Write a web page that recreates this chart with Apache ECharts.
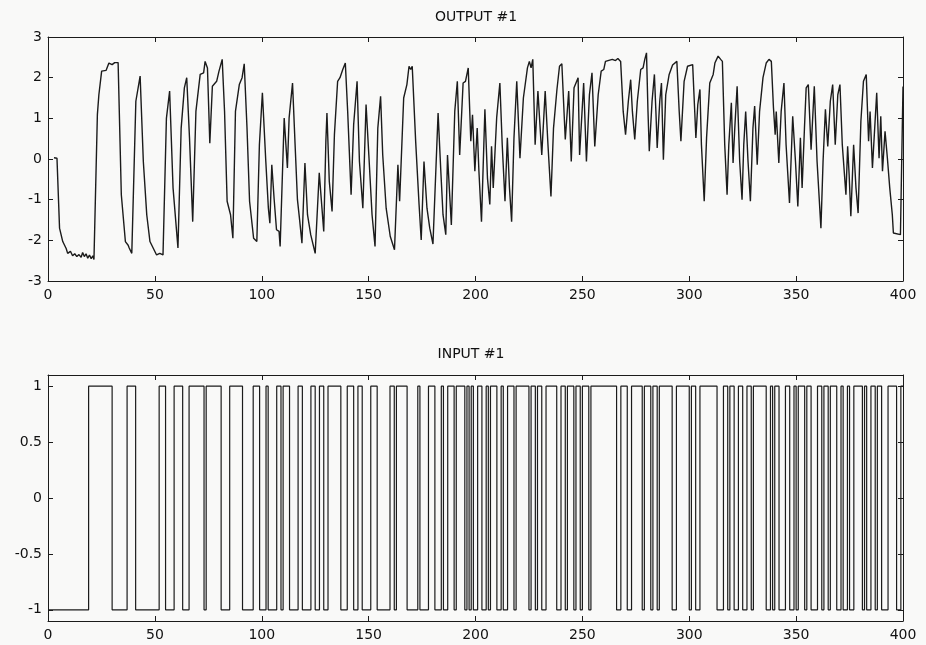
<!DOCTYPE html>
<html>
<head>
<meta charset="utf-8">
<script src="https://cdn.jsdelivr.net/npm/echarts@6.0.0/dist/echarts.min.js"></script>
<style>
  html, body { margin: 0; padding: 0; background: #f9f9f8; }
  #chart { width: 926px; height: 645px; }
</style>
</head>
<body>
<div id="chart"></div>
<script>
// OUTPUT #1 : vertices [sample, value], in four stretches
let output0to100 = [
    [2.8, 0.03], [4.2, 0.02], [5.4, -1.7], [6.9, -2.03], [8.5, -2.2], [9.2, -2.32], [10.5, -2.27],
    [11.5, -2.38], [12.5, -2.33], [13.5, -2.4], [14.5, -2.35], [15.5, -2.42], [16.2, -2.3], [17, -2.4],
    [17.8, -2.33], [18.6, -2.44], [19.4, -2.36], [20.2, -2.45], [21, -2.38], [21.5, -2.47], [23.1, 1.09],
    [23.8, 1.58], [25.1, 2.16], [27.2, 2.18], [28.5, 2.36], [30, 2.32], [31.2, 2.37], [32.8, 2.37],
    [34.3, -0.88], [36.2, -2.03], [37.5, -2.12], [38, -2.19], [39.2, -2.32], [41.1, 1.42], [43.1, 2.04],
    [44.6, -0.06], [46.2, -1.37], [47.7, -2.03], [50.8, -2.36], [52.3, -2.32], [53.8, -2.36], [55.4, 1.0],
    [56.9, 1.67], [58.5, -0.71], [60.8, -2.19], [62.3, 0.76], [63.8, 1.75], [64.9, 2.0], [66.2, 0.52],
    [67.7, -1.54], [69.2, 1.17], [71.2, 2.08], [72.8, 2.12], [73.5, 2.4], [74.6, 2.24], [75.7, 0.39],
    [76.9, 1.79], [78.9, 1.91], [80, 2.16], [81.5, 2.45], [82.6, 1.17], [83.8, -1.04], [85.4, -1.37],
    [86.5, -1.95], [87.7, 1.17], [89.5, 1.83], [90.8, 2.0], [91.8, 2.34], [93.1, 0.76], [94.3, -1.04],
    [96.2, -1.95], [97.7, -2.03], [98.9, 0.35], [100.3, 1.63]
];
let output100to200 = [
    [101.9, -0.06], [103.1, -1.21], [103.8, -1.58], [104.7, -0.14], [105.8, -0.99], [106.9, -1.74],
    [108.1, -1.78], [108.6, -2.15], [110.5, 1.01], [112, -0.22], [112.8, 1.01], [114.4, 1.87],
    [115.6, 0.35], [116.7, -1.0], [117.8, -1.54], [118.8, -2.07], [120.2, -0.1], [121.4, -1.37],
    [122.9, -1.86], [125, -2.32], [126.9, -0.34], [129, -1.78], [130, 0.44], [130.5, 1.13], [131.6, -0.55],
    [132.9, -1.29], [134, 0.6], [135.5, 1.91], [136.6, 2.0], [137.9, 2.2], [139.1, 2.36], [140.2, 1.17],
    [141.8, -0.88], [143, 0.85], [144.6, 1.91], [145.7, -0.06], [147.3, -1.21], [148.8, 1.34], [150.1, 0.1],
    [151.6, -1.37], [153, -2.15], [154.3, 0.76], [155.6, 1.54], [156.6, 0.1], [158.2, -1.21], [160.1, -1.9],
    [162.1, -2.23], [163.7, -0.14], [164.5, -1.04], [166.4, 1.5], [167.9, 1.83], [168.9, 2.28], [169.7, 2.2],
    [170.4, 2.28], [172, 0.44], [173.6, -1.12], [174.6, -1.99], [175.9, -0.06], [177.3, -1.21], [178.6, -1.7],
    [180.1, -2.09], [182.5, 1.13], [183.7, -0.22], [184.8, -1.37], [186.1, -1.86], [186.9, 0.1], [188.7, -1.62],
    [190.3, 1.17], [191.5, 1.91], [192.6, 0.1], [194.2, 1.87], [195.3, 1.91], [196.6, 2.24], [197.8, 0.44],
    [198.6, 1.09], [199.7, -0.3]
];
let output200to300 = [
    [200.8, 0.76], [201.6, -0.3], [202.8, -1.54], [204.4, 1.22], [205.6, -0.47], [206.7, -1.12], [207.5, 0.31],
    [208.3, -0.71], [209.9, 1.01], [211.4, 1.87], [212.5, 0.35], [213.8, -1.04], [214.9, 0.52], [215.9, -0.71],
    [216.9, -1.54], [218, 0.52], [219.3, 1.91], [220.8, 0.02], [222.4, 1.5], [224.3, 2.24], [225.2, 2.4],
    [226, 2.24], [226.8, 2.45], [227.9, 0.35], [229.2, 1.67], [231, 0.1], [232.6, 1.67], [233.9, 0.35],
    [235.3, -0.92], [236.5, 0.76], [238.1, 1.71], [239.3, 2.28], [240.4, 2.34], [242, 0.48], [243.6, 1.67],
    [244.8, -0.06], [246.1, 1.75], [248, 2.0], [248.7, 0.1], [250.6, 1.87], [251.9, -0.06], [253.3, 1.58],
    [254.5, 2.12], [255.8, 0.31], [257.4, 1.58], [258.8, 2.16], [260, 2.2], [260.8, 2.4], [264, 2.45],
    [265.5, 2.42], [266.6, 2.47], [267.9, 2.4], [269.1, 1.17], [270.2, 0.6], [271.5, 1.42], [272.6, 1.95],
    [273.4, 1.17], [274.5, 0.48], [275.7, 1.42], [277.3, 2.2], [278.4, 2.24], [279.2, 2.45], [280, 2.61],
    [280.7, 1.17], [281.3, 0.19], [282.6, 1.42], [283.7, 2.08], [284.4, 1.17], [285, 0.27], [286.2, 1.42],
    [287, 1.87], [287.9, -0.02], [289, 1.58], [290.6, 2.08], [292.2, 2.31], [294.2, 2.4], [295.3, 1.17],
    [296.1, 0.44], [297.6, 1.91], [299.2, 2.28], [301.6, 2.32]
];
let output300to400 = [
    [302.6, 1.13], [303.1, 0.52], [304, 1.34], [305, 1.71], [305.7, 0.35], [307, -1.04], [308.1, 0.52],
    [309.6, 1.87], [311.2, 2.08], [312, 2.36], [313.5, 2.53], [314.7, 2.45], [315.5, 2.4], [316.6, 0.35],
    [317.7, -0.88], [318.5, 0.35], [319.7, 1.38], [320.5, -0.1], [321.3, 0.76], [322.4, 1.79], [323.6, -0.06],
    [324.7, -1.0], [325.5, 0.35], [326.4, 1.17], [327.5, -0.06], [328.6, -1.04], [329.8, 0.76], [330.6, 1.3],
    [331.8, -0.14], [332.9, 1.17], [334.5, 2.0], [336, 2.36], [337.3, 2.45], [338.4, 2.4], [339.4, 1.26],
    [340.2, 0.6], [340.7, 1.17], [341.9, -0.1], [343, 1.17], [344.3, 1.87], [345.3, 0.35], [346.9, -1.08],
    [348.4, 1.05], [349.7, -0.06], [350.8, -1.17], [352, 0.52], [352.8, -0.71], [353.9, 0.76], [354.7, 1.75],
    [355.7, 1.83], [357, 0.23], [358.5, 1.79], [359.8, -0.06], [361.6, -1.7], [362.6, -0.06], [363.7, 1.22],
    [364.8, 0.31], [366, 1.42], [367.1, 1.83], [368.3, 0.35], [369.5, 1.58], [370.5, 1.83], [371.6, 0.35],
    [373.3, -0.88], [374.1, 0.31], [374.8, -0.38], [375.6, -1.41], [376.9, 0.35], [378, -0.71], [379, -1.33],
    [380.3, 0.93], [381.5, 1.91], [382.8, 2.08], [383.9, 0.44], [384.6, 1.17], [385.7, -0.22], [387.7, 1.63],
    [388.8, 0.02], [389.6, 1.05], [390.4, -0.3], [391.6, 0.68], [392.7, 0.02], [393.8, -0.71], [395, -1.37],
    [395.5, -1.82], [398.8, -1.86], [400, 1.78]
];

// INPUT #1 : starts low, flips level at each of these samples
let inputStart = -1;
let inputSwitches = [
    19, 30, 37, 41, 52, 55, 59, 63, 66, 73, 74, 81, 85, 91, 96, 99,
    102, 103, 107, 109, 110, 113, 117, 119, 123, 125, 127, 129, 131, 137, 140, 143, 145, 147,
    151, 154, 160, 162, 163, 168, 173, 174, 178, 181, 184, 185, 187, 190, 191, 195, 196, 197, 198, 199,
    201, 203, 205, 206, 207, 210, 212, 213, 215, 218, 219, 225, 226, 228, 229, 231, 233, 238,
    240, 242, 243, 246, 247, 249, 250, 253, 254, 266, 268, 271, 273, 278, 279, 282, 283, 285,
    286, 292, 294, 300, 301, 303, 305, 313, 316, 318, 319, 321, 323, 325, 327, 329, 330, 336,
    338, 339, 340, 342, 345, 347, 349, 350, 351, 354, 355, 357, 360, 362, 363, 365, 366, 369,
    371, 372, 374, 375, 377, 381, 382, 383, 385, 387, 388, 390, 393, 397, 399
];

let xTicks = { min: 0, max: 400, interval: 50 };
let outTicks = { min: -3, max: 3, interval: 1 };
let inTickValues = [-1, -0.5, 0, 0.5, 1];

function buildSteps(start, switches, tEnd) {
    let level = start;
    let pts = [[0, level]];
    switches.forEach(t => {
        level = -level;
        pts.push([t, level]);
    });
    pts.push([tEnd, level]);
    return pts;
}

let chart = echarts.init(document.getElementById("chart"));

let ink = "#1b1b1b";
let font = "DejaVu Sans";

function xAxisFor(grid, pos, labels) {
    return {
        type: "value", gridIndex: grid, position: pos,
        min: xTicks.min, max: xTicks.max, interval: xTicks.interval,
        axisLine: { show: true, onZero: false, lineStyle: { color: ink, width: 1 } },
        axisTick: { show: true, inside: true, length: 5, lineStyle: { color: ink } },
        axisLabel: { show: labels, margin: 7, color: "#111", fontFamily: font, fontSize: 14 },
        splitLine: { show: false }
    };
}

function yAxisFor(grid, pos, labels, range) {
    let ax = {
        type: "value", gridIndex: grid, position: pos,
        min: range.min, max: range.max,
        axisLine: { show: true, onZero: false, lineStyle: { color: ink, width: 1 } },
        axisTick: { show: true, inside: true, length: 5, lineStyle: { color: ink } },
        axisLabel: { show: labels, margin: 6, color: "#111", fontFamily: font, fontSize: 14 },
        splitLine: { show: false }
    };
    if (range.interval) {
        ax.interval = range.interval;
    } else {
        ax.axisTick.customValues = range.values;
        ax.axisLabel.customValues = range.values;
    }
    return ax;
}

let inRange = { min: -1.1, max: 1.1, values: inTickValues };

let option = {
    animation: false,
    backgroundColor: "#f9f9f8",
    title: [
        { text: "OUTPUT #1", left: 471, top: 5, textAlign: "center",
          textStyle: { fontFamily: font, fontSize: 14, fontWeight: "normal", color: "#111" } },
        { text: "INPUT #1", left: 466, top: 342, textAlign: "center",
          textStyle: { fontFamily: font, fontSize: 14, fontWeight: "normal", color: "#111" } }
    ],
    grid: [
        { left: 48, right: 23, top: 37, height: 244 },
        { left: 48, right: 23, top: 375, height: 246 }
    ],
    xAxis: [
        xAxisFor(0, "bottom", true),
        xAxisFor(0, "top", false),
        xAxisFor(1, "bottom", true),
        xAxisFor(1, "top", false)
    ],
    yAxis: [
        yAxisFor(0, "left", true, outTicks),
        yAxisFor(0, "right", false, outTicks),
        yAxisFor(1, "left", true, inRange),
        yAxisFor(1, "right", false, inRange)
    ],
    series: [
        {
            name: "OUTPUT #1", type: "line", xAxisIndex: 0, yAxisIndex: 0,
            data: output0to100.concat(output100to200, output200to300, output300to400),
            showSymbol: false, lineStyle: { color: ink, width: 1.4 }
        },
        {
            name: "INPUT #1", type: "line", xAxisIndex: 2, yAxisIndex: 2, step: "end",
            data: buildSteps(inputStart, inputSwitches, 400),
            showSymbol: false, lineStyle: { color: ink, width: 1.2 }
        }
    ]
};

chart.setOption(option);
</script>
</body>
</html>
